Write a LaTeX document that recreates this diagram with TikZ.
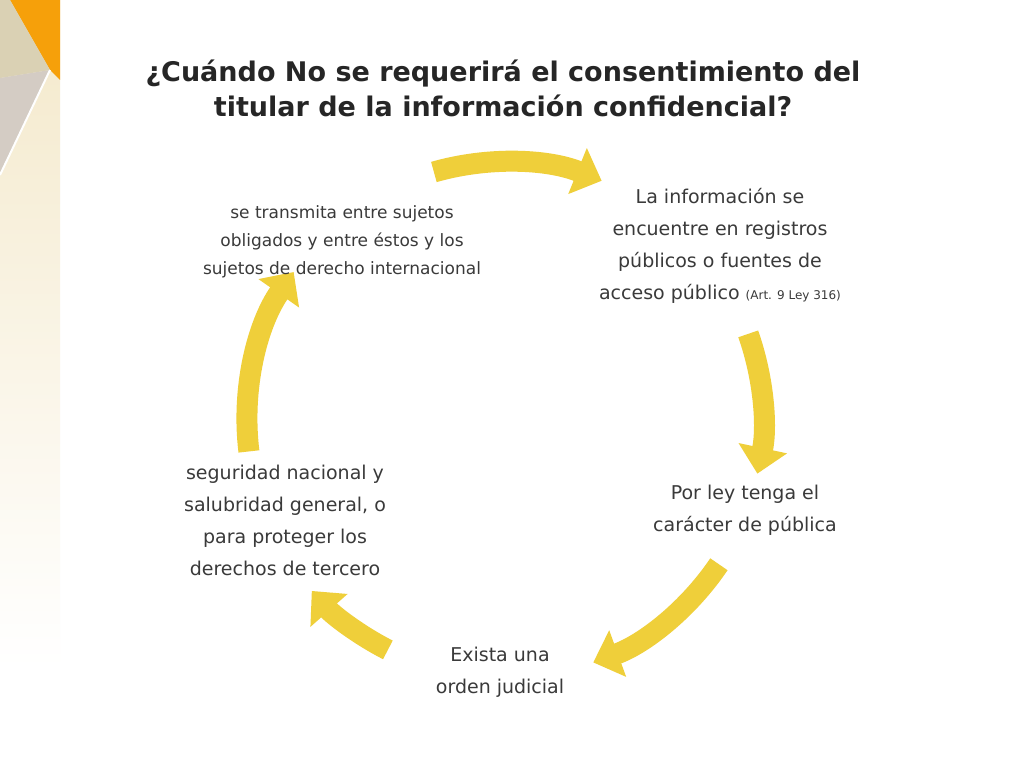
\documentclass[tikz,border=0pt]{standalone}
\usepackage{fontspec}
\setmainfont{DejaVu Sans}
\usetikzlibrary{arrows.meta,calc}
\definecolor{gold}{HTML}{EFCF3A}
\definecolor{goldedge}{HTML}{D9B52A}
\definecolor{txt}{HTML}{3A3A3A}
\tikzset{
  arr/.style={line width=21pt,color=gold,-{Triangle[width=48pt,length=26pt]}},
  lbl/.style={align=center,text=txt,font=\fontsize{19}{32}\selectfont},
}
\newcommand\arcarr[2]{%
  \draw[arr] ($(c)+(#1:258)$) arc[start angle=#1,end angle=#2,radius=258];
}
\begin{document}
\begin{tikzpicture}[x=1pt,y=1pt]
\useasboundingbox (0,0) rectangle (1024,768);
\fill[white] (0,0) rectangle (1024,768);
% left strip
\shade[top color=yellow!30!brown!25!white,bottom color=white] (0,768) rectangle (60,100);
\fill[orange!70!yellow!85!brown] (10,768) -- (60,768) -- (60,688) -- (50,698) -- cycle;
\fill[gray!60!green!25!brown!40] (0,768) -- (10,768) -- (50,698) -- (0,690) -- cycle;
\fill[brown!30!gray!40] (0,690) -- (50,698) -- (0,595) -- cycle;
\draw[white,line width=2pt] (50,698) -- (0,593);
% title
\node[font=\bfseries\fontsize{27}{35}\selectfont,text=black!85,align=center] (title) at (503,680)
  {¿Cuándo No se requerirá el consentimiento del\\titular de la información confidencial?};
\coordinate (c) at (505,348);
\arcarr{106}{68}
\arcarr{19.5}{-12}
\arcarr{-34}{-70}
\arcarr{-117}{-138.5}
\arcarr{-173}{-215}
% labels
\node[lbl,font=\fontsize{17}{28}\selectfont] (tl) at (342,526) {se transmita entre sujetos\\obligados y entre éstos y los\\sujetos de derecho internacional};
\node[lbl] (tr) at (720,522) {La información se\\encuentre en registros\\públicos o fuentes de\\acceso público {\fontsize{12}{14}\selectfont (Art. 9 Ley 316)}};
\node[lbl] (r) at (745,258) {Por ley tenga el\\carácter de pública};
\node[lbl] (b) at (500,96) {Exista una\\orden judicial};
\node[lbl] (l) at (285,248) {seguridad nacional y\\salubridad general, o\\para proteger los\\derechos de tercero};
\end{tikzpicture}
\end{document}
